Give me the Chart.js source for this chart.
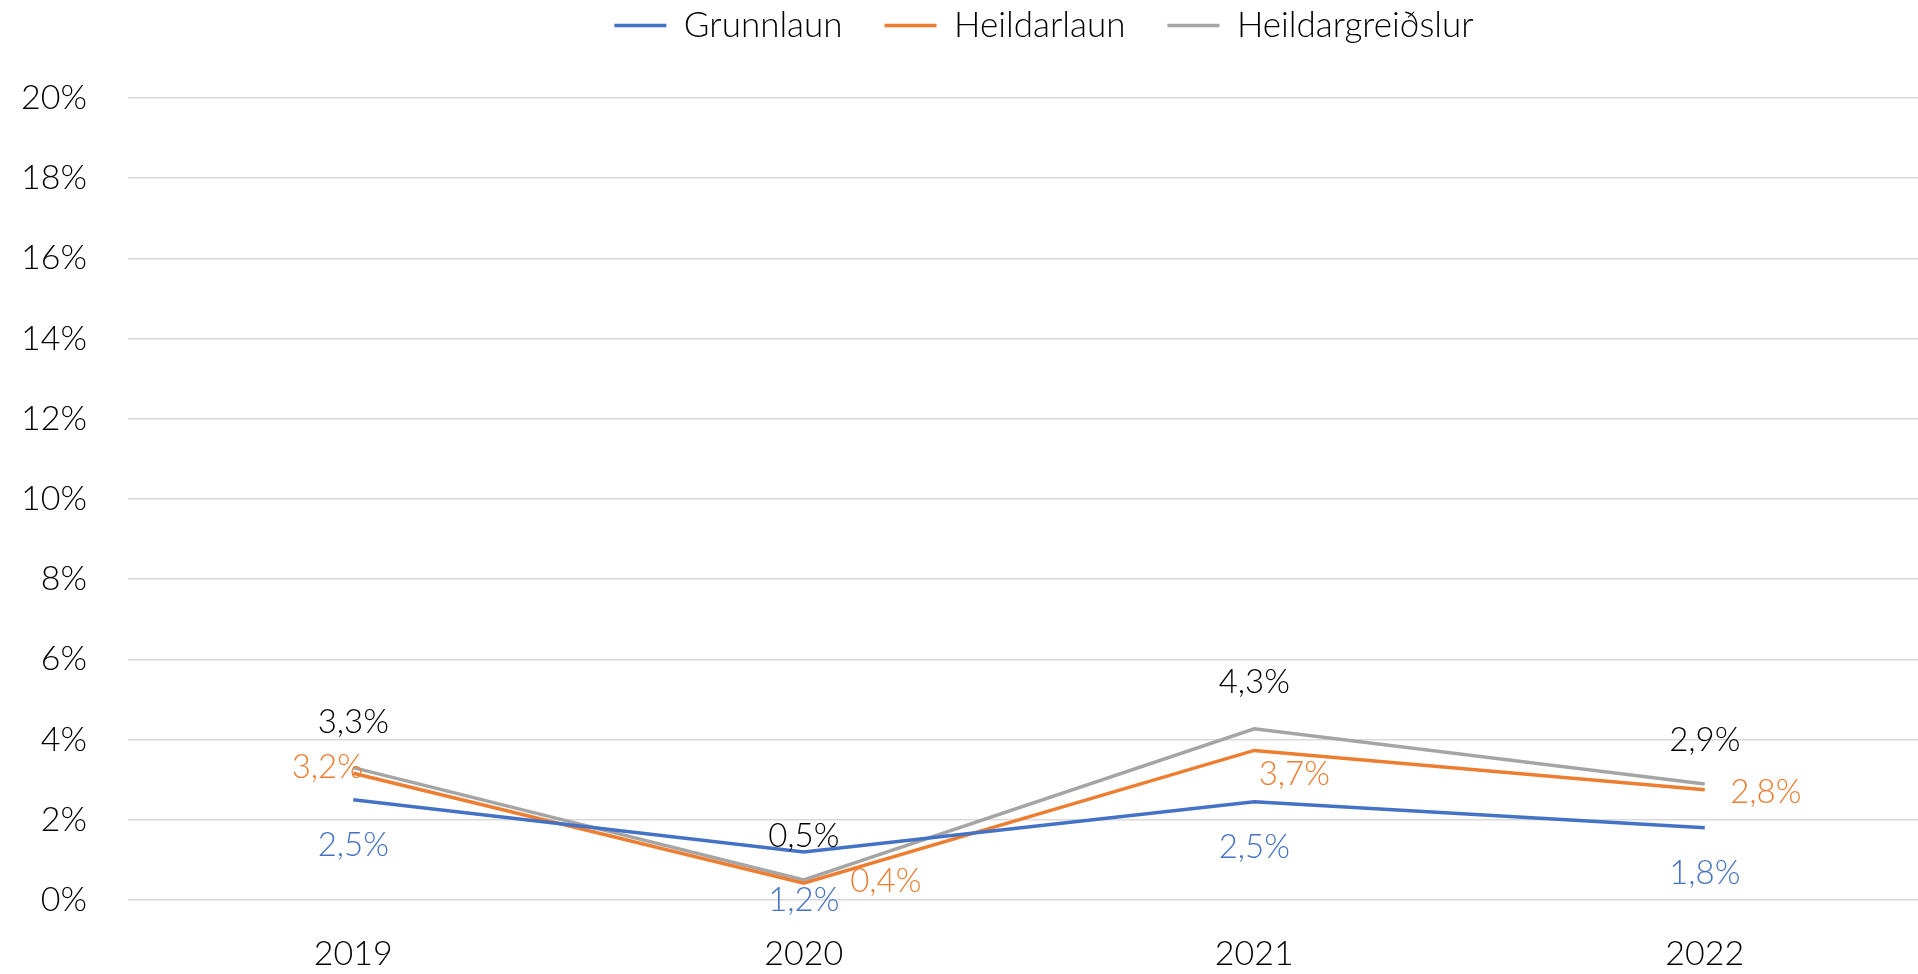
<!DOCTYPE html>
<html>
<head>
<meta charset="utf-8">
<script src="https://cdn.jsdelivr.net/npm/chart.js@4"></script>
<style>
  html, body { margin: 0; padding: 0; background: #fff; overflow: hidden; }
  #wrap { width: 1932px; height: 974px; }
</style>
</head>
<body>
<div id="wrap"><canvas id="line-chart"></canvas></div>
<script>
const years = ['2019', '2020', '2021', '2022']
const grunnlaun = [2.5, 1.2, 2.45, 1.8]
const heildarlaun = [3.16, 0.42, 3.73, 2.75]
const heildargreidslur = [3.3, 0.5, 4.27, 2.89]
const yTicks = [0, 2, 4, 6, 8, 10, 12, 14, 16, 18, 20]

const FONT = 'Lato, "Open Sans", sans-serif'

// where each value label sits relative to its point (px)
const labelOffsets = [
  [[0, 46], [0, 48], [0, 46], [0, 46]],
  [[-26, -6], [82, -2], [40, 24], [61, 3]],
  [[0, -45], [0, -44], [0, -46], [0, -44]],
]
const labelColors = ['#4472C4', '#ED7D31', '#000000']

const fmt = (v) => v.toFixed(1).replace('.', ',') + '%'

const valueLabels = {
  id: 'valueLabels',
  afterDatasetsDraw(chart) {
    const c = chart.ctx
    c.save()
    c.font = '300 33px ' + FONT
    c.textAlign = 'center'
    c.textBaseline = 'middle'
    chart.data.datasets.forEach((ds, i) => {
      chart.getDatasetMeta(i).data.forEach((pt, j) => {
        const [dx, dy] = labelOffsets[i][j]
        c.fillStyle = labelColors[i]
        c.fillText(fmt(ds.data[j]), pt.x + dx, pt.y + dy)
      })
    })
    c.restore()
  },
}

// legend centred over the plot area and lifted to the top
const legendPlace = {
  id: 'legendPlace',
  afterLayout(chart) {
    const lg = chart.legend
    const a = chart.chartArea
    lg.left = a.left + 15
    lg.right = a.right + 15
    lg.top -= 45
    lg.bottom -= 45
  },
}

const ctx = document.getElementById('line-chart')

new Chart(ctx, {
  type: 'line',
  data: {
    labels: years,
    datasets: [
      {
        label: 'Grunnlaun',
        data: grunnlaun,
        borderColor: '#4472C4',
        backgroundColor: '#4472C4',
        borderWidth: 3.5,
      },
      {
        label: 'Heildarlaun',
        data: heildarlaun,
        borderColor: '#ED7D31',
        backgroundColor: '#ED7D31',
        borderWidth: 3.5,
      },
      {
        label: 'Heildargreiðslur',
        data: heildargreidslur,
        borderColor: '#A5A5A5',
        backgroundColor: '#A5A5A5',
        borderWidth: 3.5,
      },
    ],
  },
  options: {
    responsive: true,
    maintainAspectRatio: false,
    animation: false,
    layout: { padding: { left: 0, right: 2, top: 11, bottom: 0 } },
    elements: {
      line: { tension: 0 },
      point: { radius: 0, hoverRadius: 0 },
    },
    scales: {
      x: {
        offset: true,
        grid: { display: false, drawTicks: false },
        border: { display: false },
        ticks: {
          padding: 34,
          color: '#000',
          font: { family: FONT, size: 34, weight: '300' },
        },
        afterFit(scale) {
          scale.height = 74
        },
      },
      y: {
        min: 0,
        max: 20,
        afterBuildTicks(scale) {
          scale.ticks = yTicks.map((v) => ({ value: v }))
        },
        grid: { color: '#D9D9D9', lineWidth: 1.5, drawTicks: false },
        border: { display: false },
        ticks: {
          padding: 41,
          color: '#000',
          font: { family: FONT, size: 34, weight: '300' },
          callback: (v) => v + '%',
        },
        afterFit(scale) {
          scale.width = 128
        },
      },
    },
    plugins: {
      legend: {
        position: 'top',
        labels: {
          usePointStyle: true,
          pointStyle: 'line',
          pointStyleWidth: 52,
          padding: 42,
          color: '#000',
          font: { family: FONT, size: 35, weight: '300' },
        },
      },
      tooltip: { enabled: false },
    },
  },
  plugins: [valueLabels, legendPlace],
})
</script>
</body>
</html>
